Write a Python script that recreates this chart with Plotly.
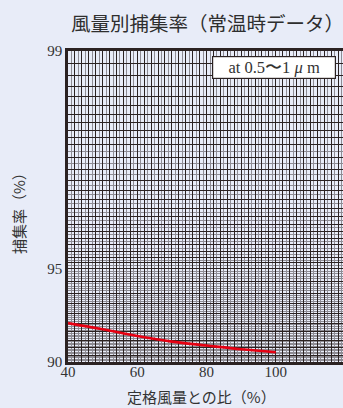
import numpy as np
import plotly.graph_objects as go

# Airflow ratio vs. collection efficiency (room-temperature data)
airflow_ratio = [40, 50, 60, 70, 80, 90, 100]            # % of rated airflow
efficiency = [92.5, 92.15, 91.75, 91.4, 91.15, 90.9, 90.7]  # collection efficiency %

y_tick_labels = [99, 95, 90]
x_tick_labels = [40, 60, 80, 100]

BG = "#E8ECF8"
DARK = "#2B2222"
GREY = "#8E8C94"

# Efficiency axis is drawn as a log scale of penetration (100 - efficiency)
penetration = [100 - e for e in efficiency]

# efficiency grid lines: dark (major) and grey (minor)
major_eff = list(np.round(np.arange(99.0, 97.95, -0.1), 2)) + \
            list(np.round(np.arange(97.8, 94.95, -0.2), 2)) + \
            list(np.round(np.arange(94.5, 89.95, -0.5), 2))
minor_eff = list(np.round(np.arange(97.9, 95.0, -0.2), 2)) + \
            [round(v, 2) for v in np.arange(94.9, 90.0, -0.1)
             if abs(round(v * 2) - v * 2) > 1e-6]
y_major_vals = [round(100 - e, 3) for e in major_eff]
y_major_text = [str(int(e)) if round(e, 2) in y_tick_labels else "" for e in major_eff]
y_minor_vals = [round(100 - e, 3) for e in minor_eff]

x_major_vals = list(range(40, 121, 2))
x_major_text = [str(v) if v in x_tick_labels else "" for v in x_major_vals]
x_minor_vals = list(range(41, 121, 2))

fig = go.Figure()
fig.add_trace(go.Scatter(
    x=airflow_ratio, y=penetration, mode="lines",
    line=dict(color="#E60012", width=2.6, shape="spline"),
    showlegend=False, hoverinfo="skip",
))

fig.update_layout(
    width=343, height=408,
    margin=dict(l=68, r=0, t=51, b=46),
    paper_bgcolor=BG, plot_bgcolor=BG,
    font=dict(family="Liberation Serif", color="#333333"),
    xaxis=dict(
        range=[40, 119.4],
        tickmode="array", tickvals=x_major_vals, ticktext=x_major_text,
        showgrid=True, gridcolor=DARK, gridwidth=1,
        minor=dict(tickmode="array", tickvals=x_minor_vals, showgrid=True,
                   gridcolor=GREY, gridwidth=1),
        showline=True, linecolor=DARK, linewidth=2.5, mirror=True,
        zeroline=False, ticks="", ticklabelstandoff=-6,
        tickfont=dict(family="Liberation Serif", size=15, color="#333333"),
    ),
    yaxis=dict(
        type="log", range=[1, 0],
        tickmode="array", tickvals=y_major_vals, ticktext=y_major_text,
        showgrid=True, gridcolor=DARK, gridwidth=1,
        minor=dict(tickmode="array", tickvals=y_minor_vals, showgrid=True,
                   gridcolor=GREY, gridwidth=1),
        showline=True, linecolor=DARK, linewidth=2.5, mirror=False,
        zeroline=False, ticks="",
        tickfont=dict(family="Liberation Serif", size=15, color="#333333"),
    ),
)

fig.add_annotation(
    text="風量別捕集率（常温時データ）", xref="paper", yref="paper",
    x=(207 - 68) / 275, y=1 + (51 - 22) / 311, xanchor="center", yanchor="middle",
    showarrow=False, font=dict(family="Noto Sans CJK JP", size=19.5, color="#2E2E2E"),
)
fig.add_annotation(
    text="捕集率（%）", xref="paper", yref="paper",
    x=(18 - 68) / 275, y=1 - (210 - 51) / 311, xanchor="center", yanchor="middle",
    textangle=-90, showarrow=False,
    font=dict(family="Noto Sans CJK JP", size=15, color="#333333"),
)
fig.add_annotation(
    text="定格風量との比（%）", xref="paper", yref="paper",
    x=(201 - 68) / 275, y=-(396 - 362) / 311, xanchor="center", yanchor="middle",
    showarrow=False, font=dict(family="Noto Sans CJK JP", size=15, color="#333333"),
)
fig.add_annotation(
    text="at 0.5〜1 <i>μ</i> m", xref="paper", yref="paper",
    x=(274 - 68) / 275, y=1 - (67.5 - 51) / 311, xanchor="center", yanchor="middle",
    showarrow=False, bgcolor="white", bordercolor=DARK, borderwidth=1.2,
    borderpad=1, width=120,
    font=dict(family="Liberation Serif", size=16.5, color="#333333"),
)

fig.write_html("out.html")
